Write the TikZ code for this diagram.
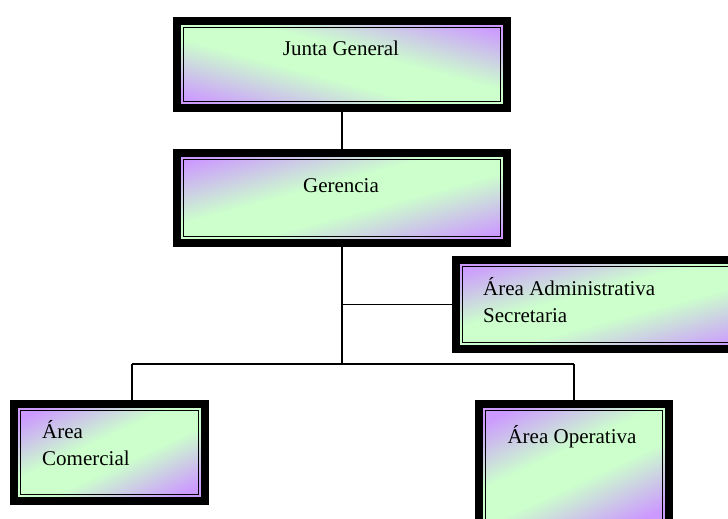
\documentclass[tikz,border=0pt]{standalone}
\usepackage{fontspec}
\setmainfont{Liberation Serif}
\definecolor{boxpurple}{RGB}{204,153,255}
\definecolor{boxgreen}{RGB}{204,255,204}
\pgfdeclareverticalshading{orgshade}{100bp}{color(0bp)=(boxpurple); color(23bp)=(boxpurple); color(44bp)=(boxgreen); color(56bp)=(boxgreen); color(77bp)=(boxpurple); color(100bp)=(boxpurple)}
\tikzset{
  orgbox/.style={rectangle, draw=black, line width=8pt, inner sep=0pt,
    shade, shading=orgshade, shading angle=#1,
    path picture={\draw[line width=1.6pt,black]
      ([shift={(6.6pt,-6.6pt)}]path picture bounding box.north west) rectangle
      ([shift={(-6.6pt,6.6pt)}]path picture bounding box.south east);}},
  orgbox/.default=15,
  boxtext/.style={inner sep=0pt, font=\fontsize{21}{27}\selectfont, text=black},
  link/.style={draw=black, line width=1.6pt}
}
\begin{document}
\begin{tikzpicture}[x=1pt,y=-1pt]
\useasboundingbox (0,0) rectangle (728,519);
\coordinate (hub) at (342,364);
\coordinate (adminjoin) at (342,304.5);
\coordinate (leftend) at (132,364);
\coordinate (rightend) at (574,364);
% boxes
\node[orgbox=-15, minimum width=330pt, minimum height=87pt] (junta) at (342,64.5) {};
\node[orgbox, minimum width=330pt, minimum height=90pt] (gerencia) at (342,198) {};
\node[orgbox, minimum width=300pt, minimum height=89pt] (admin) at (606,304.5) {};
\node[orgbox=25, minimum width=191pt, minimum height=97pt] (comercial) at (109.5,452.5) {};
\node[orgbox=25, minimum width=190pt, minimum height=122pt] (operativa) at (574,465) {};
% connectors
\draw[link] (junta.south) -- (gerencia.north);
\draw[link] (gerencia.south) -- (hub);
\draw[link] (adminjoin) -- (admin.west);
\draw[link] (leftend) -- (rightend);
\draw[link] (leftend) -- (leftend |- comercial.north);
\draw[link] (rightend) -- (operativa.north);
% texts
\node[boxtext, anchor=base] (tjunta) at (341,56) {Junta General};
\node[boxtext, anchor=base] (tgerencia) at (341,192) {Gerencia};
\node[boxtext, anchor=base west, align=left] (tadmin) at (483,322) {Área Administrativa\\Secretaria};
\node[boxtext, anchor=base west, align=left] (tcomercial) at (42,465) {Área\\Comercial};
\node[boxtext, anchor=base] (toperativa) at (572,443) {Área Operativa};
\end{tikzpicture}
\end{document}
